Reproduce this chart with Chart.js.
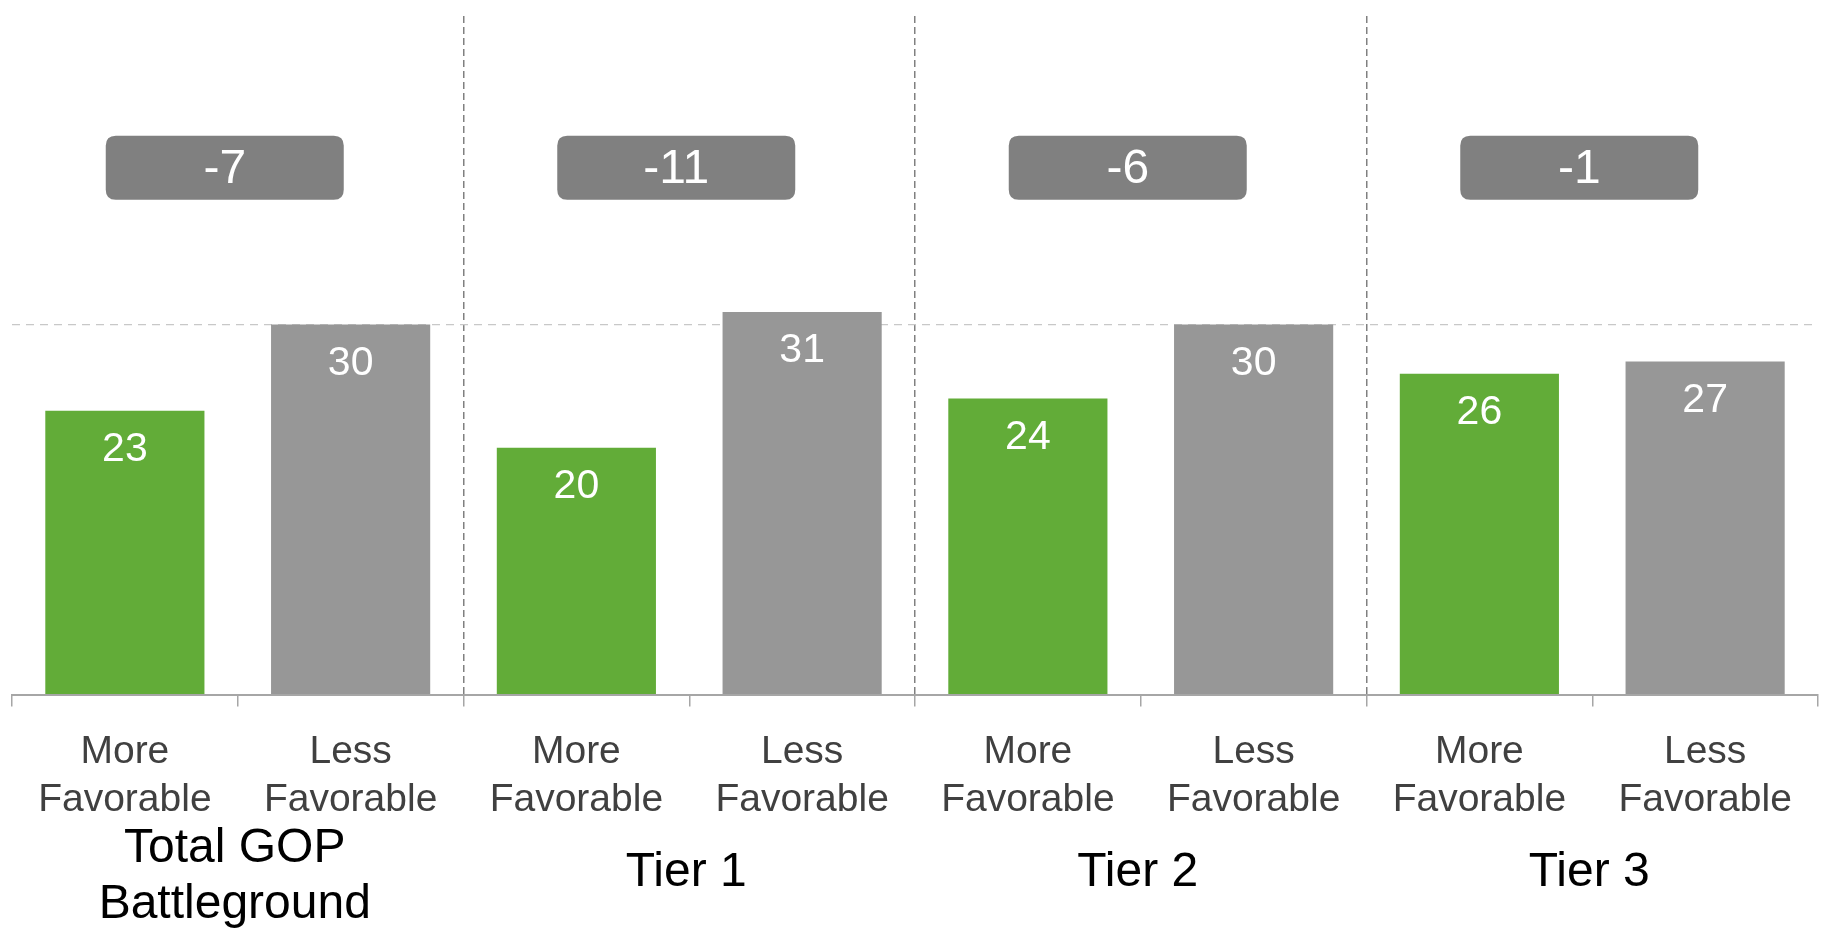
<!DOCTYPE html>
<html>
<head>
<meta charset="utf-8">
<script src="https://cdn.jsdelivr.net/npm/chart.js@4/dist/chart.umd.min.js"></script>
<style>
    body { margin: 0; background: #ffffff; }
    canvas { display: block; }
</style>
</head>
<body>
<canvas id="favChart" width="1824" height="932"></canvas>
<script>
// chart values
const groups = [['Total GOP', 'Battleground'], ['Tier 1'], ['Tier 2'], ['Tier 3']];
const barLabels = [
    ['More', 'Favorable'], ['Less', 'Favorable'],
    ['More', 'Favorable'], ['Less', 'Favorable'],
    ['More', 'Favorable'], ['Less', 'Favorable'],
    ['More', 'Favorable'], ['Less', 'Favorable']
];
const moreFavorable = [23, 20, 24, 26];
const lessFavorable = [30, 31, 30, 27];

const GREEN = '#62ac38';
const GRAY = '#979797';
const FONT = "'Liberation Sans', Arial, sans-serif";

// one bar per category, more/less alternating
const values = [];
const colors = [];
moreFavorable.forEach((v, i) => {
    values.push(v, lessFavorable[i]);
    colors.push(GREEN, GRAY);
});

function roundRect(ctx, x, y, w, h, r) {
    ctx.beginPath();
    ctx.moveTo(x + r, y);
    ctx.lineTo(x + w - r, y);
    ctx.quadraticCurveTo(x + w, y, x + w, y + r);
    ctx.lineTo(x + w, y + h - r);
    ctx.quadraticCurveTo(x + w, y + h, x + w - r, y + h);
    ctx.lineTo(x + r, y + h);
    ctx.quadraticCurveTo(x, y + h, x, y + h - r);
    ctx.lineTo(x, y + r);
    ctx.quadraticCurveTo(x, y, x + r, y);
    ctx.closePath();
}

const labelsPlugin = {
    id: 'labelsPlugin',
    afterDatasetsDraw(chart) {
        const ctx = chart.ctx;
        const meta = chart.getDatasetMeta(0);
        ctx.save();
        ctx.fillStyle = '#ffffff';
        ctx.font = '41px ' + FONT;
        ctx.textAlign = 'center';
        ctx.textBaseline = 'middle';
        meta.data.forEach((bar, i) => {
            ctx.fillText(String(values[i]), bar.x, bar.y + 39);
        });
        ctx.restore();
    },
    afterDraw(chart) {
        const ctx = chart.ctx;
        const xs = chart.scales.x;
        const ys = chart.scales.y;
        ctx.save();
        groups.forEach((lines, g) => {
            const cx = (xs.getPixelForValue(g * 2) + xs.getPixelForValue(g * 2 + 1)) / 2;

            // net difference box
            const net = moreFavorable[g] - lessFavorable[g];
            const bx = cx - 13;
            const by = ys.getPixelForValue(42.7);
            ctx.fillStyle = '#808080';
            roundRect(ctx, bx - 119, by - 32, 238, 64, 10);
            ctx.fill();
            ctx.fillStyle = '#ffffff';
            ctx.font = '48px ' + FONT;
            ctx.textAlign = 'center';
            ctx.textBaseline = 'middle';
            ctx.fillText(String(net), bx, by + 2);

            // group name under the axis
            ctx.fillStyle = '#000000';
            ctx.font = '48px ' + FONT;
            const base = xs.bottom + 27;
            lines.forEach((t, k) => {
                const y = base + (k - (lines.length - 1) / 2) * 56 + (lines.length - 1) * 4;
                ctx.fillText(t, cx - 3, y);
            });
        });
        ctx.restore();
    }
};

new Chart(document.getElementById('favChart'), {
    type: 'bar',
    data: {
        labels: barLabels,
        datasets: [{
            data: values,
            backgroundColor: colors,
            borderWidth: 0,
            categoryPercentage: 1,
            barPercentage: 0.705
        }]
    },
    options: {
        responsive: false,
        animation: false,
        layout: {
            padding: { left: 12, right: 6, top: 16, bottom: 86 }
        },
        plugins: {
            legend: { display: false },
            tooltip: { enabled: false }
        },
        scales: {
            x: {
                grid: {
                    offset: true,
                    lineWidth: 1.5,
                    color: c => (c.index === 2 || c.index === 4 || c.index === 6) ? '#808080' : 'rgba(0,0,0,0)',
                    tickColor: '#a6a6a6',
                    tickWidth: 1.5,
                    tickLength: 12
                },
                border: {
                    display: true,
                    color: '#a6a6a6',
                    width: 2,
                    dash: [7, 4]
                },
                ticks: {
                    color: '#404040',
                    padding: 21,
                    maxRotation: 0,
                    autoSkip: false,
                    font: { family: FONT, size: 39, lineHeight: 1.25 }
                }
            },
            y: {
                min: 0,
                max: 55,
                ticks: { display: false, stepSize: 5 },
                border: { display: false, dash: [8, 6] },
                grid: {
                    drawTicks: false,
                    lineWidth: 1.2,
                    color: c => c.tick && c.tick.value === 30 ? '#c8c8c8' : 'rgba(0,0,0,0)'
                }
            }
        }
    },
    plugins: [labelsPlugin]
});
</script>
</body>
</html>
